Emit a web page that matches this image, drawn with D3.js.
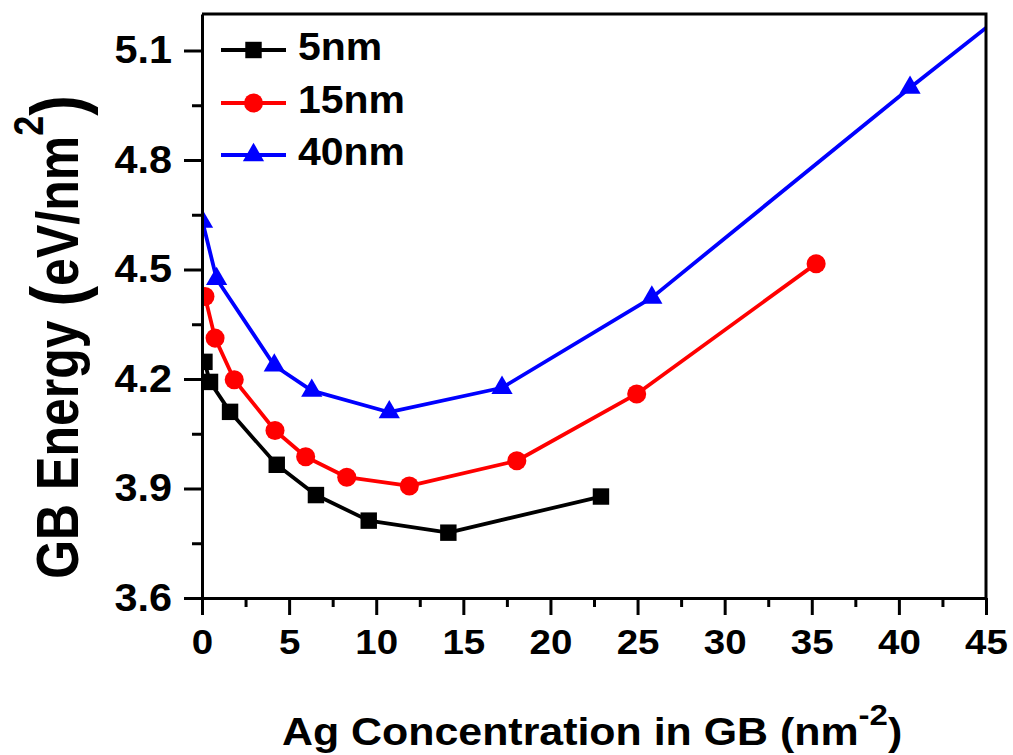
<!DOCTYPE html>
<html lang="en">
<head>
<meta charset="utf-8">
<title>GB Energy vs Ag Concentration</title>
<script src="https://d3js.org/d3.v7.min.js"></script>
<style>
  body { margin: 0; background: #fff; }
  svg { display: block; font-family: Arial, "Liberation Sans", sans-serif; font-weight: bold; }
</style>
</head>
<body>
<svg id="chart" width="1013" height="755"></svg>
<script>
// values
const conc5nm = [0.14, 0.46, 1.61, 4.29, 6.54, 9.57, 14.14, 22.9];
const energy5nm = [4.247, 4.192, 4.110, 3.965, 3.882, 3.812, 3.779, 3.878];

const conc15nm = [0.17, 0.75, 1.85, 4.19, 5.95, 8.31, 11.9, 18.07, 24.95, 35.25];
const energy15nm = [4.426, 4.312, 4.198, 4.059, 3.987, 3.931, 3.907, 3.976, 4.159, 4.516];

// last point lies past the right edge of the frame, only its line shows
const conc40nm = [0.03, 0.84, 4.15, 6.30, 10.75, 17.22, 25.82, 40.64, 52.5];
const energy40nm = [4.631, 4.474, 4.237, 4.168, 4.109, 4.176, 4.423, 4.998, 5.444];

const seriesNames = ["5nm", "15nm", "40nm"];
const seriesColors = ["#000000", "#ff0000", "#0000ff"];
const seriesShapes = [d3.symbolSquare, d3.symbolCircle, d3.symbolTriangle];
const seriesSizes = [270, 285, 195];

const xTicks = [0, 5, 10, 15, 20, 25, 30, 35, 40, 45];
const xMinor = [2.5, 7.5, 12.5, 17.5, 22.5, 27.5, 32.5, 37.5, 42.5];
const yTicks = [3.6, 3.9, 4.2, 4.5, 4.8, 5.1];
const yMinor = [3.75, 4.05, 4.35, 4.65, 4.95];

const series = [
    { x: conc5nm, y: energy5nm },
    { x: conc15nm, y: energy15nm },
    { x: conc40nm, y: energy40nm }
].map((s, i) => ({
    name: seriesNames[i],
    color: seriesColors[i],
    shape: seriesShapes[i],
    size: seriesSizes[i],
    points: s.x.map((v, j) => [v, s.y[j]])
}));

const plotLeft = 202, plotRight = 986, plotTop = 14, plotBottom = 598;

const x = d3.scaleLinear().domain([0, 45]).range([plotLeft, plotRight]);
const y = d3.scaleLinear().domain([3.6, 5.2]).range([plotBottom, plotTop]);

const svg = d3.select("#chart");

svg.append("clipPath").attr("id", "plotClip")
    .append("rect")
    .attr("x", plotLeft).attr("y", plotTop)
    .attr("width", plotRight - plotLeft).attr("height", plotBottom - plotTop);

const plot = svg.append("g").attr("clip-path", "url(#plotClip)");

const line = d3.line().x(d => x(d[0])).y(d => y(d[1]));

series.forEach(s => {
    plot.append("path")
        .attr("d", line(s.points))
        .attr("fill", "none")
        .attr("stroke", s.color)
        .attr("stroke-width", 3.8)
        .attr("stroke-linejoin", "round");

    plot.selectAll(null)
        .data(s.points)
        .join("path")
        .attr("transform", d => `translate(${x(d[0])},${y(d[1])})`)
        .attr("d", d3.symbol().type(s.shape).size(s.size))
        .attr("fill", s.color);
});

// frame: top and right edges
svg.append("path")
    .attr("d", `M${plotLeft},${plotTop}H${plotRight}V${plotBottom}`)
    .attr("fill", "none")
    .attr("stroke", "#000")
    .attr("stroke-width", 3);

// axes, text is stretched a little sideways like the original
function styleAxis(g) {
    g.select(".domain").attr("stroke-width", 3);
    g.selectAll(".tick line").attr("stroke-width", 3);
}

const xAxis = svg.append("g")
    .attr("transform", `translate(0,${plotBottom})`)
    .call(d3.axisBottom(x).tickValues(xTicks).tickSize(17).tickSizeOuter(0).tickPadding(14).tickFormat(d3.format("d")))
    .call(styleAxis);
xAxis.selectAll(".tick text")
    .attr("font-size", 35)
    .attr("transform", "scale(1.1,1)")
    .attr("fill", "#000");

svg.append("g")
    .attr("transform", `translate(0,${plotBottom})`)
    .call(d3.axisBottom(x).tickValues(xMinor).tickSize(9).tickSizeOuter(0).tickFormat(""))
    .call(styleAxis)
    .select(".domain").remove();

const yAxis = svg.append("g")
    .attr("transform", `translate(${plotLeft},0)`)
    .call(d3.axisLeft(y).tickValues(yTicks).tickSize(18).tickSizeOuter(0).tickPadding(12).tickFormat(d3.format(".1f")))
    .call(styleAxis);
yAxis.selectAll(".tick text")
    .attr("font-size", 38)
    .attr("fill", "#000")
    .attr("x", null)
    .attr("transform", "translate(-30,0) scale(1.09,1)");

svg.append("g")
    .attr("transform", `translate(${plotLeft},0)`)
    .call(d3.axisLeft(y).tickValues(yMinor).tickSize(10).tickSizeOuter(0).tickFormat(""))
    .call(styleAxis)
    .select(".domain").remove();

svg.selectAll("g[font-family]").attr("font-family", null);

// legend
const legendRows = [50, 103, 155];
const legend = svg.append("g");
series.forEach((s, i) => {
    const row = legend.append("g").attr("transform", `translate(221,${legendRows[i]})`);
    row.append("line")
        .attr("x1", 0).attr("x2", 65)
        .attr("stroke", s.color)
        .attr("stroke-width", 3.8);
    row.append("path")
        .attr("transform", "translate(32.5,0)")
        .attr("d", d3.symbol().type(s.shape).size(s.size))
        .attr("fill", s.color);
    row.append("text")
        .attr("transform", "translate(77,10) scale(1.05,1)")
        .attr("font-size", 39)
        .attr("fill", "#000")
        .text(s.name);
});

// x title
const xTitle = svg.append("text")
    .attr("transform", "translate(282,745) scale(1.1,1)")
    .attr("font-size", 39)
    .attr("fill", "#000");
xTitle.append("tspan").text("Ag Concentration in GB (nm");
xTitle.append("tspan").attr("font-size", 30).attr("dy", -20).text("-2");
xTitle.append("tspan").attr("dy", 20).text(")");

// y title
const yTitle = svg.append("text")
    .attr("transform", "translate(78,337) scale(1.2,1) rotate(-90)")
    .attr("text-anchor", "middle")
    .attr("font-size", 50)
    .attr("fill", "#000");
yTitle.append("tspan").text("GB Energy ");
yTitle.append("tspan").attr("font-size", 62).attr("dy", 4).text("(");
yTitle.append("tspan").attr("dy", -4).text("eV/nm");
yTitle.append("tspan").attr("font-size", 36).attr("dy", -29).text("2");
yTitle.append("tspan").attr("font-size", 62).attr("dy", 33).text(")");
</script>
</body>
</html>
